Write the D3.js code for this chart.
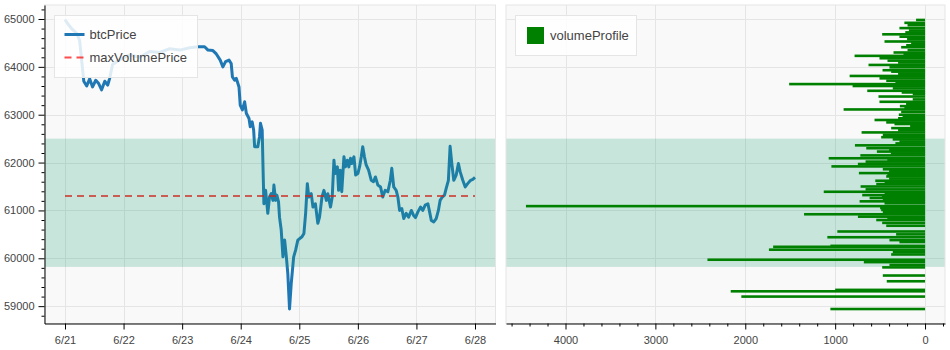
<!DOCTYPE html>
<html lang="en">
<head>
<meta charset="UTF-8">
<title>btcPrice / volumeProfile</title>
<script src="https://cdn.jsdelivr.net/npm/d3@7"></script>
<style>
    body { margin: 0; background: #fff; }
    svg { display: block; font-family: "Liberation Sans", Arial, sans-serif; }
    .tick text { font-size: 11px; fill: #444; }
    .legend text { font-size: 13px; fill: #444; }
</style>
</head>
<body>
<svg width="950" height="350"></svg>
<script>
// price series
const times = [
    "2024-06-21 00:00", "2024-06-21 01:06", "2024-06-21 02:42", "2024-06-21 04:48", "2024-06-21 06:00",
    "2024-06-21 07:42", "2024-06-21 08:54", "2024-06-21 10:06", "2024-06-21 11:18", "2024-06-21 12:36",
    "2024-06-21 13:48", "2024-06-21 15:00", "2024-06-21 16:18", "2024-06-21 17:30", "2024-06-21 18:18",
    "2024-06-21 19:30", "2024-06-21 22:24", "2024-06-22 02:30", "2024-06-22 06:36", "2024-06-22 10:42",
    "2024-06-22 14:48", "2024-06-22 18:54", "2024-06-22 23:00", "2024-06-23 03:06", "2024-06-23 06:30",
    "2024-06-23 09:12", "2024-06-23 10:36", "2024-06-23 12:36", "2024-06-23 14:00", "2024-06-23 15:36",
    "2024-06-23 16:42", "2024-06-23 17:48", "2024-06-23 19:12", "2024-06-23 20:06", "2024-06-23 20:36",
    "2024-06-23 21:30", "2024-06-23 22:12", "2024-06-23 23:18", "2024-06-23 23:48", "2024-06-24 00:42",
    "2024-06-24 01:36", "2024-06-24 02:18", "2024-06-24 03:24", "2024-06-24 03:54", "2024-06-24 04:42",
    "2024-06-24 05:18", "2024-06-24 05:42", "2024-06-24 07:00", "2024-06-24 07:42", "2024-06-24 08:06",
    "2024-06-24 08:48", "2024-06-24 09:06", "2024-06-24 09:30", "2024-06-24 10:12", "2024-06-24 11:06",
    "2024-06-24 11:48", "2024-06-24 12:30", "2024-06-24 13:12", "2024-06-24 13:36", "2024-06-24 14:18",
    "2024-06-24 14:48", "2024-06-24 15:30", "2024-06-24 15:54", "2024-06-24 16:36", "2024-06-24 17:18",
    "2024-06-24 18:00", "2024-06-24 18:42", "2024-06-24 19:18", "2024-06-24 20:00", "2024-06-24 20:42",
    "2024-06-24 21:42", "2024-06-24 22:30", "2024-06-24 23:24", "2024-06-25 01:06", "2024-06-25 01:54",
    "2024-06-25 02:36", "2024-06-25 03:18", "2024-06-25 03:54", "2024-06-25 04:54", "2024-06-25 05:36",
    "2024-06-25 06:36", "2024-06-25 07:36", "2024-06-25 08:18", "2024-06-25 09:18", "2024-06-25 10:06",
    "2024-06-25 11:06", "2024-06-25 11:42", "2024-06-25 12:48", "2024-06-25 13:30", "2024-06-25 14:12",
    "2024-06-25 14:42", "2024-06-25 15:36", "2024-06-25 16:06", "2024-06-25 16:48", "2024-06-25 17:24",
    "2024-06-25 18:18", "2024-06-25 18:54", "2024-06-25 19:42", "2024-06-25 20:18", "2024-06-25 21:00",
    "2024-06-25 21:30", "2024-06-25 22:24", "2024-06-25 23:06", "2024-06-26 00:00", "2024-06-26 00:42",
    "2024-06-26 01:24", "2024-06-26 02:00", "2024-06-26 02:42", "2024-06-26 03:24", "2024-06-26 04:24",
    "2024-06-26 05:30", "2024-06-26 06:24", "2024-06-26 07:12", "2024-06-26 08:12", "2024-06-26 09:18",
    "2024-06-26 10:12", "2024-06-26 11:12", "2024-06-26 12:18", "2024-06-26 13:18", "2024-06-26 13:54",
    "2024-06-26 14:42", "2024-06-26 15:42", "2024-06-26 16:24", "2024-06-26 17:06", "2024-06-26 18:00",
    "2024-06-26 18:48", "2024-06-26 19:48", "2024-06-26 20:48", "2024-06-26 21:54", "2024-06-26 22:48",
    "2024-06-26 23:36", "2024-06-27 00:36", "2024-06-27 01:42", "2024-06-27 02:36", "2024-06-27 03:36",
    "2024-06-27 04:42", "2024-06-27 05:24", "2024-06-27 06:06", "2024-06-27 07:06", "2024-06-27 08:06",
    "2024-06-27 09:00", "2024-06-27 09:42", "2024-06-27 10:36", "2024-06-27 11:30", "2024-06-27 12:12",
    "2024-06-27 13:06", "2024-06-27 13:48", "2024-06-27 14:30", "2024-06-27 15:18", "2024-06-27 16:18",
    "2024-06-27 17:12", "2024-06-27 17:54", "2024-06-27 19:00", "2024-06-27 20:00", "2024-06-27 21:00",
    "2024-06-27 22:12", "2024-06-27 23:06", "2024-06-28 00:00"
];
const btcPrice = [
    64990, 64900, 64800, 64700, 64550,
    63700, 63600, 63750, 63580, 63720,
    63650, 63520, 63700, 63620, 63760,
    64050, 64150, 64250, 64200, 64320,
    64300, 64380, 64350, 64400, 64420,
    64420, 64350, 64340, 64270, 64140,
    64000, 64110, 64140, 64070, 63790,
    63720, 63760, 63580, 63200, 63100,
    63270, 63030, 62920, 62750, 62850,
    62680, 62330, 62330, 62540, 62820,
    62680, 61980, 61140, 61420, 60940,
    61280, 61350, 61210, 61530, 61210,
    61320, 61180, 60860, 60590, 60030,
    60380, 60030, 59680, 58940, 59470,
    60030, 60170, 60380, 60450, 60520,
    60940, 61560, 61280, 61350, 61070,
    61140, 60730, 60860, 61280, 61420,
    61210, 61350, 61070, 61280, 62050,
    61770, 61910, 61420, 61840, 61390,
    62120, 61910, 62050, 61910, 62090,
    61980, 62120, 61740, 61770, 61910,
    62120, 62330, 62120, 61950, 61840,
    61630, 61600, 61700, 61530, 61490,
    61280, 61420, 61390, 61630, 61880,
    61490, 61420, 61280, 61000, 61040,
    60830, 60940, 60860, 61000, 60900,
    60850, 60970, 61070, 61000, 61110,
    61140, 60970, 60790, 60760, 60830,
    61000, 61210, 61280, 61320, 61460,
    61630, 62340, 61980, 61630, 61740,
    61980, 61810, 61630, 61490, 61560,
    61630, 61650, 61690
];

const maxVolumePrice = 61300;
const valueAreaLow = 59820;
const valueAreaHigh = 62500;

// volume profile: price level -> volume
const profilePrice = [
    64980, 64920, 64870, 64810, 64760, 64720, 64680, 64630, 64580, 64530,
    64490, 64450, 64410, 64350, 64300, 64265, 64230, 64180, 64130, 64090,
    64040, 63990, 63930, 63900, 63855, 63810, 63760, 63710, 63675, 63640,
    63600, 63550, 63500, 63465, 63430, 63380, 63320, 63270, 63220, 63180,
    63145, 63110, 63060, 63000, 62960, 62925, 62890, 62840, 62805, 62770,
    62720, 62675, 62630, 62580, 62530, 62485, 62440, 62400, 62360, 62300,
    62265, 62230, 62190, 62150, 62090, 62055, 62020, 61970, 61920, 61860,
    61820, 61780, 61745, 61710, 61665, 61620, 61585, 61550, 61500, 61440,
    61390, 61355, 61320, 61290, 61260, 61225, 61190, 61150, 61090, 61050,
    61010, 60965, 60920, 60870, 60835, 60800, 60740, 60680, 60560, 60500,
    60440, 60380, 60340, 60260, 60240, 60180, 60130, 60080, 59970, 59920,
    59860, 59810, 59640, 59520, 59340, 59310, 59200, 58940
];
const profileVolume = [
    100, 230, 195, 285, 180, 220, 477, 285, 200, 451,
    155, 210, 266, 195, 351, 240, 784, 507, 418, 300,
    629, 396, 473, 377, 300, 839, 507, 432, 330, 1512,
    806, 359, 643, 260, 137, 518, 137, 507, 211, 280,
    230, 906, 266, 292, 250, 300, 562, 432, 340, 166,
    377, 300, 706, 470, 488, 360, 285, 330, 780, 654,
    400, 536, 380, 720, 1072, 420, 662, 747, 1042, 470,
    400, 736, 420, 432, 400, 554, 450, 543, 717, 662,
    1127, 450, 699, 480, 617, 470, 728, 451, 4440, 500,
    488, 470, 1346, 747, 420, 543, 477, 432, 976, 322,
    1087, 396, 285, 1053, 1690, 1737, 359, 377, 2421, 681,
    396, 477, 470, 426, 1000, 2162, 2044, 1053
];

const svg = d3.select("svg");
const parseTime = d3.timeParse("%Y-%m-%d %H:%M");
const series = times.map((t, i) => ({ t: parseTime(t), p: btcPrice[i] }));

const plotTop = 5, plotBottom = 323.5;
const leftPanel = { x0: 44.5, x1: 495.5 };
const rightPanel = { x0: 506, x1: 945 };

// bokeh-like 5% range padding
function padded(ext) {
    const s = (ext[1] - ext[0]) * 0.05;
    return [ext[0] - s, ext[1] + s];
}

const tExt = d3.extent(series, d => d.t);
const tPad = (tExt[1] - tExt[0]) * 0.05;
const x = d3.scaleTime()
    .domain([new Date(+tExt[0] - tPad), new Date(+tExt[1] + tPad)])
    .range([leftPanel.x0, leftPanel.x1]);
const y = d3.scaleLinear()
    .domain(padded(d3.extent(btcPrice)))
    .range([plotBottom, plotTop]);
const xv = d3.scaleLinear()
    .domain(padded([0, d3.max(profileVolume)]))
    .range([rightPanel.x1, rightPanel.x0]);

const yMajor = d3.range(59000, 65001, 1000);
const yMinor = d3.range(58000, 66000, 200).filter(v => v > y.domain()[0] && v < y.domain()[1] && v % 1000 !== 0);
const dayTicks = d3.timeDay.range(x.domain()[0], x.domain()[1]);
const vMajor = d3.range(0, 4001, 1000);
const vMinor = d3.range(-1000, 6000, 200).filter(v => v > xv.domain()[0] && v < xv.domain()[1] && v % 1000 !== 0);

const gridColor = "#e5e5e5";
const bandColor = "#1a9e77";

function panelBase(p, id) {
    svg.append("clipPath").attr("id", id)
        .append("rect")
        .attr("x", p.x0).attr("y", plotTop)
        .attr("width", p.x1 - p.x0).attr("height", plotBottom - plotTop);
    svg.append("rect")
        .attr("x", p.x0).attr("y", plotTop)
        .attr("width", p.x1 - p.x0).attr("height", plotBottom - plotTop)
        .attr("fill", "#f9f9f9");
    const g = svg.append("g").attr("clip-path", `url(#${id})`);
    g.selectAll(".hgrid").data(yMajor).enter().append("line")
        .attr("x1", p.x0).attr("x2", p.x1)
        .attr("y1", d => Math.round(y(d)) + 0.5).attr("y2", d => Math.round(y(d)) + 0.5)
        .attr("stroke", gridColor);
    return g;
}

// ---- left panel: price line ----
const gl = panelBase(leftPanel, "clipL");
gl.selectAll(".vgrid").data(dayTicks).enter().append("line")
    .attr("x1", d => Math.round(x(d)) + 0.5).attr("x2", d => Math.round(x(d)) + 0.5)
    .attr("y1", plotTop).attr("y2", plotBottom)
    .attr("stroke", gridColor);

gl.append("path")
    .datum(series)
    .attr("fill", "none")
    .attr("stroke", "#1f77b4")
    .attr("stroke-width", 3)
    .attr("stroke-linejoin", "round")
    .attr("d", d3.line().x(d => x(d.t)).y(d => y(d.p)));

gl.append("line")
    .attr("x1", x(tExt[0])).attr("x2", x(tExt[1]))
    .attr("y1", y(maxVolumePrice)).attr("y2", y(maxVolumePrice))
    .attr("stroke", "red").attr("stroke-opacity", 0.7)
    .attr("stroke-width", 2).attr("stroke-dasharray", "7,5");

gl.append("rect")
    .attr("x", leftPanel.x0).attr("width", leftPanel.x1 - leftPanel.x0)
    .attr("y", y(valueAreaHigh)).attr("height", y(valueAreaLow) - y(valueAreaHigh))
    .attr("fill", bandColor).attr("fill-opacity", 0.22);

// ---- right panel: volume profile ----
const gr = panelBase(rightPanel, "clipR");
gr.selectAll(".vgrid").data(vMajor).enter().append("line")
    .attr("x1", d => Math.round(xv(d)) + 0.5).attr("x2", d => Math.round(xv(d)) + 0.5)
    .attr("y1", plotTop).attr("y2", plotBottom)
    .attr("stroke", gridColor);

gr.append("rect")
    .attr("x", rightPanel.x0).attr("width", rightPanel.x1 - rightPanel.x0)
    .attr("y", y(valueAreaHigh)).attr("height", y(valueAreaLow) - y(valueAreaHigh))
    .attr("fill", bandColor).attr("fill-opacity", 0.22);

const barH = 2.6;
gr.selectAll(".bar")
    .data(profilePrice.map((p, i) => ({ p: p, v: profileVolume[i] })))
    .enter().append("rect")
    .attr("x", d => xv(d.v))
    .attr("width", d => xv(0) - xv(d.v))
    .attr("y", d => y(d.p) - barH / 2)
    .attr("height", barH)
    .attr("fill", "green");

// outlines
[leftPanel, rightPanel].forEach(p => {
    svg.append("rect")
        .attr("x", p.x0).attr("y", plotTop)
        .attr("width", p.x1 - p.x0).attr("height", plotBottom - plotTop)
        .attr("fill", "none").attr("stroke", gridColor);
});

// ---- axes ----
function styleAxis(g) {
    g.select(".domain").attr("stroke", "#000");
    g.selectAll(".tick line").attr("stroke", "#000");
}

svg.append("g")
    .attr("transform", `translate(${leftPanel.x0},0)`)
    .call(d3.axisLeft(y).tickValues(yMinor).tickSize(3).tickSizeOuter(0).tickFormat(""))
    .call(g => g.select(".domain").remove())
    .call(styleAxis);
svg.append("g")
    .attr("transform", `translate(${leftPanel.x0},0)`)
    .call(d3.axisLeft(y).tickValues(yMajor).tickSize(6).tickSizeOuter(0).tickPadding(4).tickFormat(d3.format("d")))
    .call(styleAxis);

svg.append("g")
    .attr("transform", `translate(0,${plotBottom})`)
    .call(d3.axisBottom(x).tickValues(dayTicks).tickSize(6).tickSizeOuter(0).tickPadding(7)
        .tickFormat(d3.timeFormat("%-m/%-d")))
    .call(styleAxis);

svg.append("g")
    .attr("transform", `translate(0,${plotBottom})`)
    .call(d3.axisBottom(xv).tickValues(vMinor).tickSize(3).tickSizeOuter(0).tickFormat(""))
    .call(g => g.select(".domain").remove())
    .call(styleAxis);
svg.append("g")
    .attr("transform", `translate(0,${plotBottom})`)
    .call(d3.axisBottom(xv).tickValues(vMajor).tickSize(6).tickSizeOuter(0).tickPadding(7)
        .tickFormat(d3.format("d")))
    .call(styleAxis);

svg.selectAll(".tick text").attr("font-family", null).attr("font-size", null);

// ---- legends ----
const legL = svg.append("g").attr("class", "legend");
legL.append("rect")
    .attr("x", 54.5).attr("y", 15.5).attr("width", 143).attr("height", 62)
    .attr("fill", "#fff").attr("fill-opacity", 0.85).attr("stroke", gridColor);
legL.append("line")
    .attr("x1", 64.5).attr("x2", 84.5).attr("y1", 34.5).attr("y2", 34.5)
    .attr("stroke", "#1f77b4").attr("stroke-width", 3);
legL.append("text").attr("x", 89.5).attr("y", 34.5).attr("dy", "0.35em").text("btcPrice");
legL.append("line")
    .attr("x1", 64.5).attr("x2", 84.5).attr("y1", 57.5).attr("y2", 57.5)
    .attr("stroke", "red").attr("stroke-opacity", 0.7)
    .attr("stroke-width", 2).attr("stroke-dasharray", "7,5");
legL.append("text").attr("x", 89.5).attr("y", 57.5).attr("dy", "0.35em").text("maxVolumePrice");

const legR = svg.append("g").attr("class", "legend");
legR.append("rect")
    .attr("x", 515.5).attr("y", 15.5).attr("width", 121).attr("height", 40)
    .attr("fill", "#fff").attr("fill-opacity", 0.85).attr("stroke", gridColor);
legR.append("rect")
    .attr("x", 527).attr("y", 27).attr("width", 17).attr("height", 17)
    .attr("fill", "green");
legR.append("text").attr("x", 550).attr("y", 35.5).attr("dy", "0.35em").text("volumeProfile");
</script>
</body>
</html>
